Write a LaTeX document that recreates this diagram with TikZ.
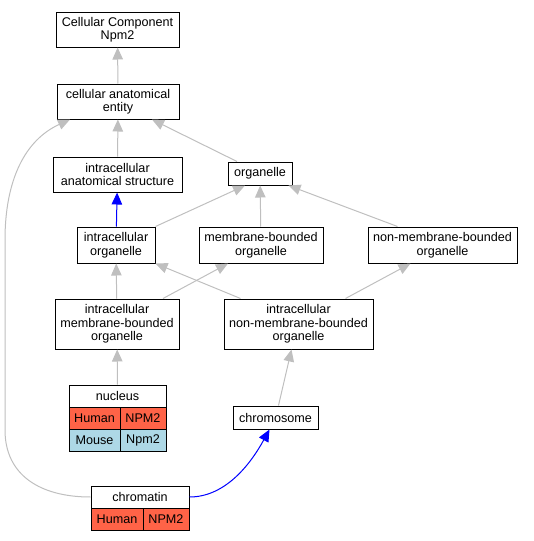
\documentclass[tikz,border=0pt]{standalone}
\usepackage{fontspec}
\setmainfont{Liberation Sans}
\usetikzlibrary{arrows.meta}
\definecolor{humanred}{RGB}{255,99,71}
\definecolor{mouseblue}{RGB}{173,216,230}
\begin{document}
\begin{tikzpicture}
[x=1pt,y=-1pt,
box/.style={draw,fill=white,line width=1pt,inner sep=0pt,align=center,font=\fontsize{12.6}{13.5}\selectfont},
edge/.style={draw=gray!50,line width=1pt,-{Triangle[length=12pt,width=10.5pt]}},
isa/.style={draw=blue,line width=1pt,-{Triangle[length=12pt,width=10.5pt]}},]

\useasboundingbox (0,0) rectangle (534,541);

%Term boxes
\node (cc) at (117.5,29.5)[box,minimum width=123pt,minimum height=35pt] {Cellular Component\\Npm2};
\node (cae) at (118,101.5)[box,minimum width=122pt,minimum height=35pt] {cellular anatomical\\entity};
\node (ias) at (117.5,174.5)[box,minimum width=129pt,minimum height=35pt] {intracellular\\anatomical structure};
\node (org) at (260,173.5)[box,minimum width=64pt,minimum height=23pt] {organelle};
\node (io) at (116,245)[box,minimum width=78pt,minimum height=36pt] {intracellular\\organelle};
\node (mbo) at (261,245)[box,minimum width=124pt,minimum height=36pt] {membrane-bounded\\organelle};
\node (nmbo) at (442.5,245)[box,minimum width=149pt,minimum height=36pt] {non-membrane-bounded\\organelle};
\node (imbo) at (117,324)[box,minimum width=124pt,minimum height=50pt] {intracellular\\membrane-bounded\\organelle};
\node (inmbo) at (298.5,324)[box,minimum width=149pt,minimum height=50pt] {intracellular\\non-membrane-bounded\\organelle};
\node (chrom) at (275.5,417.5)[box,minimum width=85pt,minimum height=23pt] {chromosome};

%Gene tables
\node (nuc) at (117.5,396)[box,minimum width=97pt,minimum height=22pt] {nucleus};
\node (nuchs) at (94.5,418)[box,fill=humanred,minimum width=51pt,minimum height=22pt] {Human};
\node (nuchsg) at (143,418)[box,fill=humanred,minimum width=46pt,minimum height=22pt] {NPM2};
\node (nucmm) at (94.5,440)[box,fill=mouseblue,minimum width=51pt,minimum height=22pt] {Mouse};
\node (nucmmg) at (143,440)[box,fill=mouseblue,minimum width=46pt,minimum height=22pt] {Npm2};

\node (chtn) at (140,497)[box,minimum width=98pt,minimum height=22pt] {chromatin};
\node (chtnhs) at (117,519)[box,fill=humanred,minimum width=52pt,minimum height=22pt] {Human};
\node (chtnhsg) at (166,519)[box,fill=humanred,minimum width=46pt,minimum height=22pt] {NPM2};

%Drawing is_a edges
\draw[edge] (cae) -- (cc);
\draw[edge] (ias) -- (cae);
\draw[edge] ([xshift=-23pt]org.north) -- ([xshift=34pt]cae.south);
\draw[isa] (io) -- (ias);
\draw[edge] (io.north east) -- ([xshift=-15pt]org.south);
\draw[edge] (mbo) -- (org);
\draw[edge] ([xshift=-45pt]nmbo.north) -- ([xshift=-4pt]org.south east);
\draw[edge] (imbo) -- (io);
\draw[edge] ([xshift=46pt]imbo.north) -- ([xshift=-33pt]mbo.south);
\draw[edge] ([xshift=-58pt]inmbo.north) -- (io.south east);
\draw[edge] ([xshift=47pt]inmbo.north) -- ([xshift=-32pt]nmbo.south);
\draw[edge] (nuc) -- (imbo);
\draw[edge] ([xshift=3pt]chrom.north) -- ([xshift=-7pt]inmbo.south);
\draw[isa] (chtn.east) .. controls (225,497) and (250,465) .. ([xshift=-6pt]chrom.south);
\draw[edge] (chtn.west) .. controls (40,497) and (5,475) .. (5,430) -- (5,240) .. controls (5,180) and (25,140) .. ([xshift=-48pt]cae.south);
\end{tikzpicture}
\end{document}
